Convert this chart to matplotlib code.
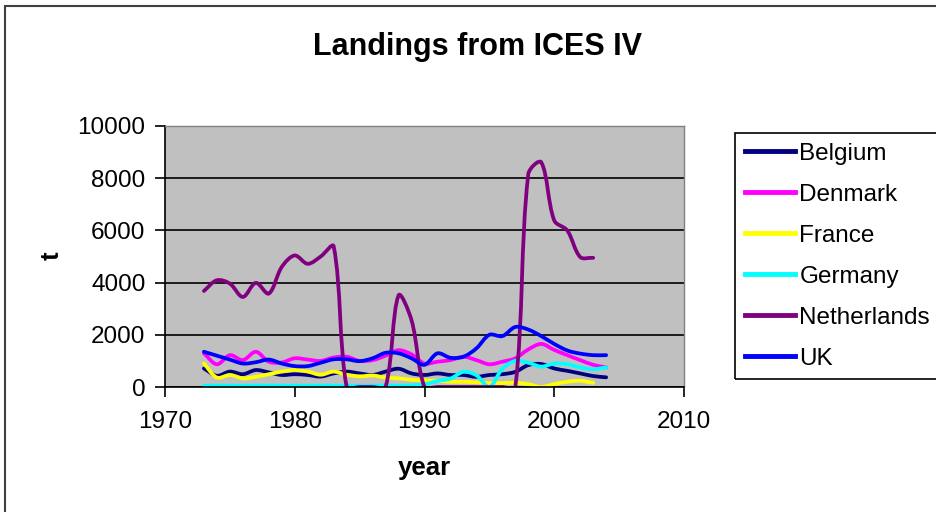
import numpy as np
import matplotlib
matplotlib.use("Agg")
import matplotlib.pyplot as plt
from matplotlib.path import Path
from matplotlib.patches import PathPatch, Rectangle
from matplotlib.lines import Line2D

plt.rcParams['font.family'] = ['Liberation Sans', 'DejaVu Sans']

# Landings (t), one value per year
years = list(range(1973, 2005))

belgium = [710, 430, 590, 490, 650, 560, 460, 490, 460, 400,
           520, 590, 520, 460, 590, 700, 520, 460, 520, 460,
           460, 390, 460, 490, 580, 840, 880, 710, 620, 520,
           420, 370]
denmark = [1290, 870, 1220, 1030, 1350, 970, 940, 1100, 1050, 1000,
           1130, 1160, 1000, 1030, 1200, 1410, 1250, 900, 970, 1030,
           1160, 1030, 870, 970, 1100, 1440, 1650, 1420, 1220, 1030,
           850, 750]
france = [900, 360, 460, 330, 390, 490, 590, 650, 590, 470,
          590, 470, 410, 440, 360, 330, 280, 250, 240, 200,
          200, 180, 150, 150, 160, 110, 0, 110, 200, 240,
          160]
germany = [50, 50, 50, 50, 50, 50, 50, 50, 50, 50,
           50, 50, 50, 50, 50, 50, 60, 100, 230, 320,
           580, 450, 0, 700, 1000, 930, 780, 900, 870, 750,
           680, 750]
netherlands = [3680, 4090, 3960, 3450, 3990, 3580, 4600, 5040, 4720, 5000,
               5390, 0, 0, 0, 0, 3510, 2560, 0, 0, 0,
               0, 0, 0, 0, 0, 8160, 8610, 6380, 6000, 4980,
               4950]
uk = [1350, 1200, 1050, 900, 950, 1050, 900, 800, 800, 930,
      1060, 1060, 990, 1100, 1310, 1290, 1100, 850, 1290, 1120,
      1160, 1480, 2000, 1950, 2300, 2200, 1950, 1650, 1400, 1280,
      1220, 1220]

series = [("Belgium", belgium, "#000080"),
          ("Denmark", denmark, "#FF00FF"),
          ("France", france, "#FFFF00"),
          ("Germany", germany, "#00FFFF"),
          ("Netherlands", netherlands, "#800080"),
          ("UK", uk, "#0000FF"),
          ]


def smooth_path(ax, x, y):
    # spreadsheet style "smoothed line": bezier control points worked out
    # in screen space, scaled by the neighbouring segment lengths
    trans = ax.transData
    p = trans.transform(np.column_stack([x, y]).astype(float))
    n = len(p)
    before = p.copy()
    after = p.copy()
    for i in range(n):
        prev = p[max(i - 1, 0)]
        nxt = p[min(i + 1, n - 1)]
        tang = nxt - prev
        d1 = np.hypot(*(p[i] - prev))
        d2 = np.hypot(*(nxt - p[i]))
        if d1 + d2 == 0:
            continue
        before[i] = p[i] - tang * d1 / (d1 + d2) / 3.0
        after[i] = p[i] + tang * d2 / (d1 + d2) / 3.0
    verts = [p[0]]
    codes = [Path.MOVETO]
    for i in range(n - 1):
        verts += [after[i], before[i + 1], p[i + 1]]
        codes += [Path.CURVE4] * 3
    verts = trans.inverted().transform(np.array(verts))
    return Path(verts, codes)


fig = plt.figure(figsize=(9.36, 5.12), dpi=100)
ax = fig.add_axes([165 / 936, 125 / 512, (684 - 165) / 936, (387 - 126) / 512])
ax.set_facecolor("#C0C0C0")

ax.set_xlim(1970, 2010)
ax.set_ylim(0, 10000)
ax.set_xticks([1970, 1980, 1990, 2000, 2010])
ax.set_yticks(range(0, 10001, 2000))
ax.yaxis.grid(True, color="black", lw=1.2)
ax.set_axisbelow(True)

for name, vals, color in series:
    patch = PathPatch(smooth_path(ax, years[:len(vals)], vals), fill=False,
                      edgecolor=color, lw=2.7, capstyle="round",
                      joinstyle="round")
    ax.add_patch(patch)

ax.tick_params(axis="both", labelsize=17.5, direction="out", length=7,
               width=1.2, color="black", labelcolor="black")
ax.tick_params(axis="y", pad=7)
ax.tick_params(axis="x", pad=10)
for side in ["top", "right"]:
    ax.spines[side].set_color("#808080")
    ax.spines[side].set_linewidth(1.0)
for side in ["left", "bottom"]:
    ax.spines[side].set_color("black")
    ax.spines[side].set_linewidth(1.2)

handles = [Line2D([], [], color=c, lw=3.5) for _, _, c in series]
labels = [n for n, _, _ in series]
leg = fig.legend(handles, labels, loc="upper left",
                 bbox_to_anchor=(735 / 936, 1 - 133 / 512),
                 bbox_transform=fig.transFigure,
                 fontsize=17.5, frameon=False,
                 handlelength=2.05, handletextpad=0.2, labelspacing=0.78,
                 borderpad=0.4, borderaxespad=0)

# legend box runs off the right edge of the picture
fig.add_artist(Rectangle((735 / 936, 1 - 379 / 512), 0.5, 246 / 512,
                         transform=fig.transFigure, fill=False,
                         edgecolor="black", lw=1.2))

fig.text(478 / 936, 1 - 47 / 512, "Landings from ICES IV", ha="center",
         va="center", fontsize=22, fontweight="bold")
fig.text(424 / 936, 1 - 468 / 512, "year", ha="center", va="center",
         fontsize=18.5, fontweight="bold")
fig.text(52 / 936, 1 - 256 / 512, "t", ha="center", va="center",
         fontsize=18.5, fontweight="bold", rotation=90)

# outer chart frame, cut off on the right and bottom
fig.add_artist(Rectangle((5 / 936, -0.1), 1.2, 1.1 - 6 / 512,
                         transform=fig.transFigure, fill=False,
                         edgecolor="#404040", lw=1.5))

fig.savefig("out.png", dpi=100)
